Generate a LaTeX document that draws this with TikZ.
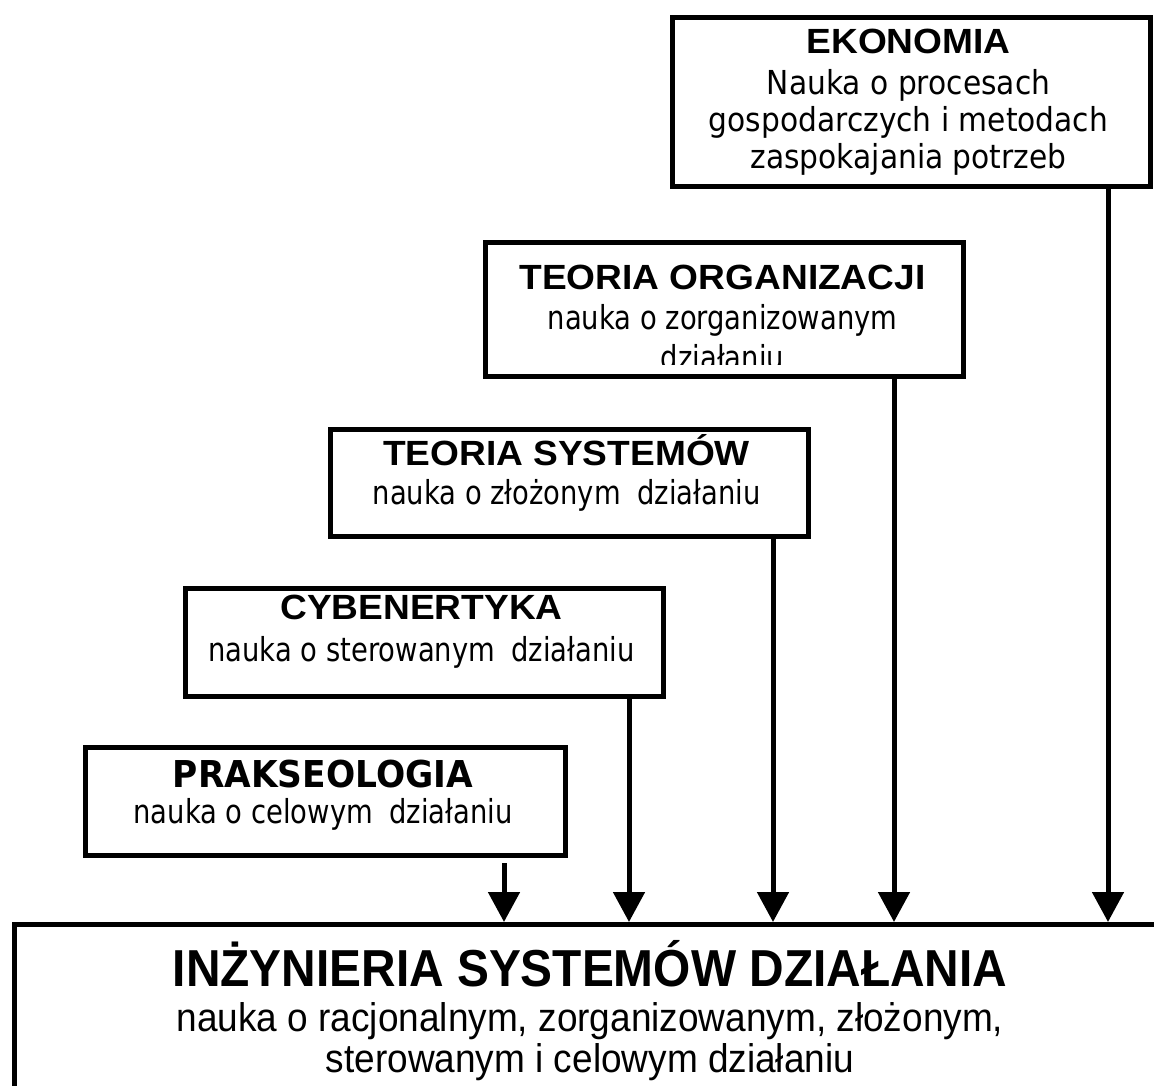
\documentclass[tikz,border=0pt]{standalone}
\usepackage{fontspec}
\setmainfont{DejaVu Sans}[FakeStretch=0.83]
\newfontfamily\ekonf{DejaVu Sans}[FakeStretch=0.9]
\newfontfamily\prakf{DejaVu Sans}[FakeStretch=0.93]
\newfontfamily\arialw{Liberation Sans}[FakeStretch=1.06]
\newfontfamily\arialt{Liberation Sans}[FakeStretch=0.92]
\newfontfamily\arials{Liberation Sans}[FakeStretch=0.925]
\usetikzlibrary{arrows.meta,calc}
\tikzset{
  box/.style={draw, line width=5pt, inner sep=0pt, anchor=north west, minimum width=478pt},
  arr/.style={line width=5pt, -{Triangle[width=31pt,length=30pt]}},
  tit/.style={anchor=base, inner sep=0pt, font=\arialw\bfseries\fontsize{35}{40}\selectfont},
  titt/.style={anchor=base, inner sep=0pt, font=\prakf\bfseries\fontsize{37}{42}\selectfont},
  sub/.style={anchor=base, inner sep=0pt, font=\fontsize{33}{38}\selectfont},
  esub/.style={anchor=base, inner sep=0pt, font=\ekonf\fontsize{33}{38}\selectfont},
  btit/.style={anchor=base, inner sep=0pt, font=\arialt\bfseries\fontsize{52}{58}\selectfont},
  bsub/.style={anchor=base, inner sep=0pt, font=\arials\fontsize{40}{46}\selectfont}
}
\newcommand{\dsp}{\hspace{0.5em}}
\begin{document}
\begin{tikzpicture}[x=1pt,y=-1pt]
\useasboundingbox (0,0) rectangle (1154,1086);
\clip (0,0) rectangle (1154,1086);
\fill[white] (0,0) rectangle (1154,1086);

% boxes
\node[box, minimum height=169pt] (ekon) at (670,15) {};
\node[box, minimum height=134pt] (teor) at (483,240) {};
\node[box, minimum height=107pt] (tsys) at (328,427) {};
\node[box, minimum height=108pt] (cyb)  at (183,586) {};
\node[box, minimum width=480pt, minimum height=108pt] (prak) at (83,745) {};
\node[draw, line width=5pt, inner sep=0pt, anchor=north west, minimum width=1200pt, minimum height=250pt] (bot) at (12,922) {};

% texts
\node[tit] (ekonT) at (908.5,54) {EKONOMIA};
\node[esub] (ekonS1) at (908.5,95) {Nauka o procesach};
\node[esub] (ekonS2) at (908.5,132) {gospodarczych i metodach};
\node[esub] (ekonS3) at (908.5,169) {zaspokajania potrzeb};

\node[tit] (teorT) at (722.5,289) {TEORIA ORGANIZACJI};
\node[sub] (teorS1) at (722.5,329) {nauka o zorganizowanym};
\begin{scope}
  \clip (483,240) rectangle (962,364);
  \node[sub] (teorS2) at (722.5,369) {działaniu};
\end{scope}

\node[tit] (tsysT) at (566.5,465) {TEORIA SYSTEMÓW};
\node[sub] (tsysS) at (566.5,504) {nauka o złożonym\dsp działaniu};

\node[tit] (cybT) at (421.5,619) {CYBENERTYKA};
\node[sub] (cybS) at (421.5,661) {nauka o sterowanym\dsp działaniu};

\node[titt] (prakT) at (323,787) {PRAKSEOLOGIA};
\node[sub] (prakS) at (323,823) {nauka o celowym\dsp działaniu};

\node[btit] (botT) at (590,986) {INŻYNIERIA SYSTEMÓW DZIAŁANIA};
\node[bsub] (botS1) at (590,1031) {nauka o racjonalnym, zorganizowanym, złożonym,};
\node[bsub] (botS2) at (590,1072) {sterowanym i celowym działaniu};

% arrows
\coordinate (x1) at (504,0);
\coordinate (x2) at (629,0);
\coordinate (x3) at (773,0);
\coordinate (x4) at (894,0);
\coordinate (x5) at (1108,0);
\draw[arr] ($(prak.south -| x1)+(0,5)$) -- (bot.north -| x1);
\draw[arr] (cyb.south -| x2) -- (bot.north -| x2);
\draw[arr] (tsys.south -| x3) -- (bot.north -| x3);
\draw[arr] (teor.south -| x4) -- (bot.north -| x4);
\draw[arr] (ekon.south -| x5) -- (bot.north -| x5);
\end{tikzpicture}
\end{document}
